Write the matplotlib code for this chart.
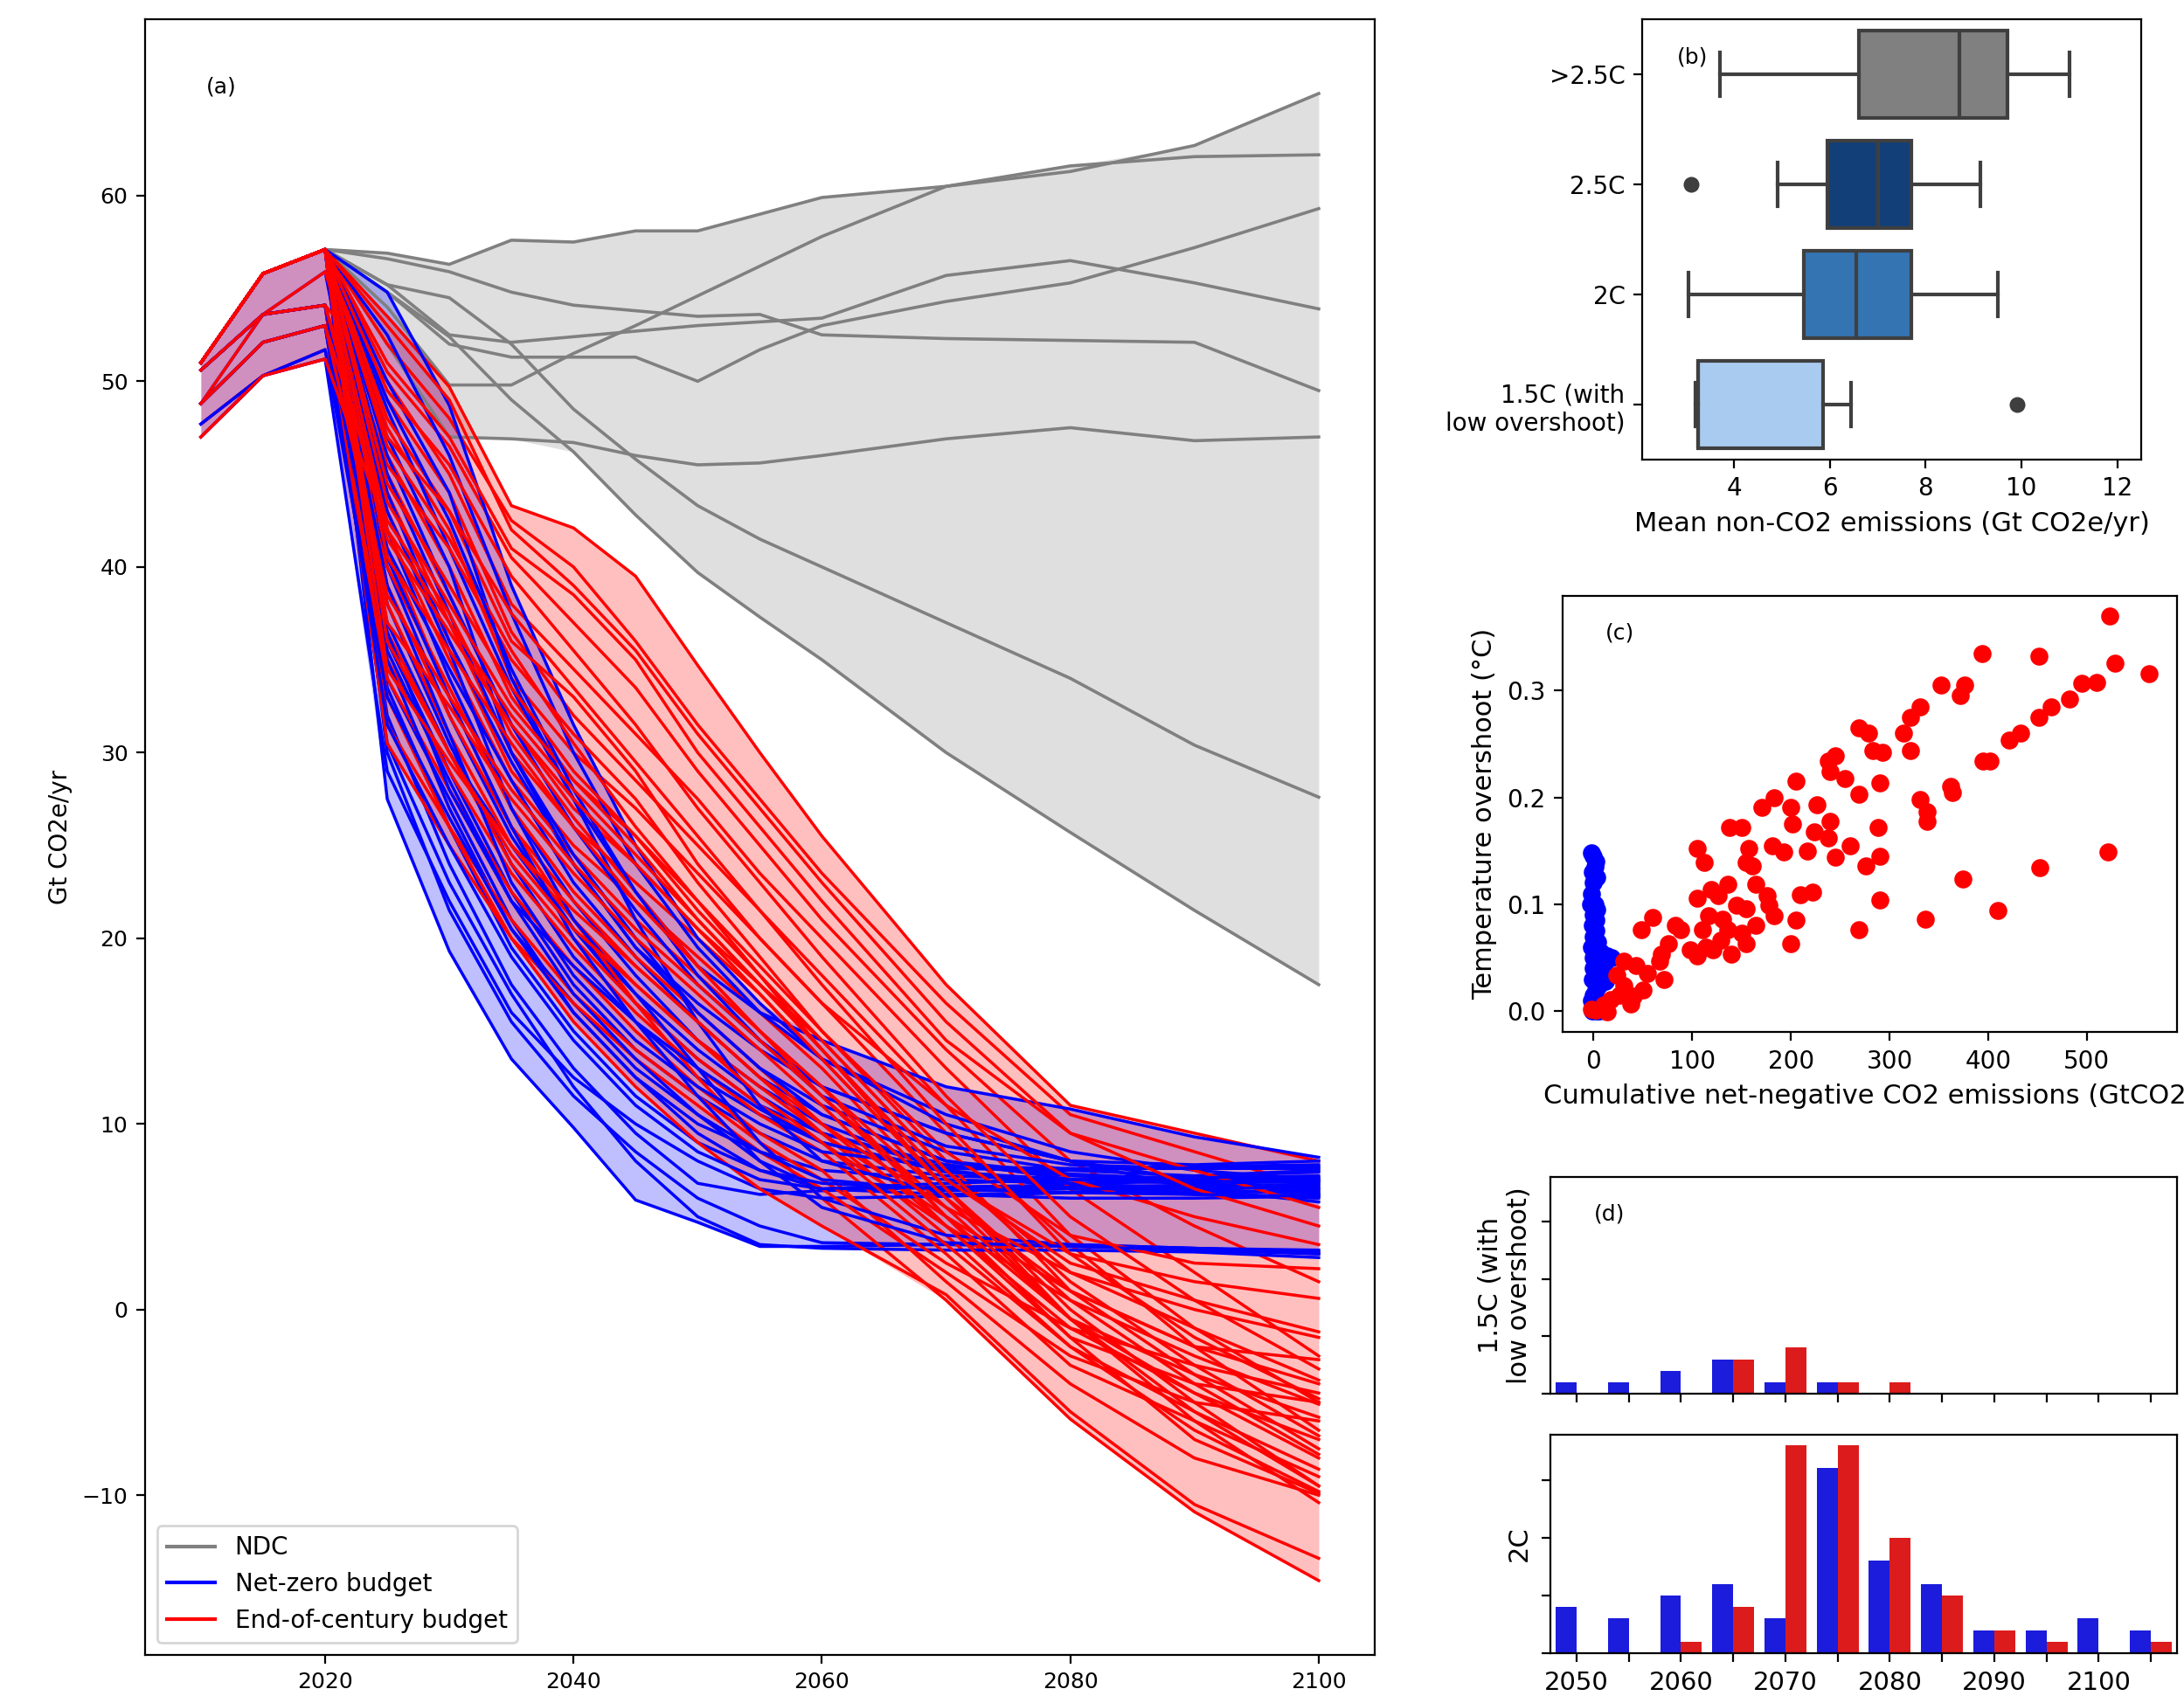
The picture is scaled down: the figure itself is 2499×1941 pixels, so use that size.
import numpy as np
import matplotlib.pyplot as plt
from matplotlib.lines import Line2D

# ---- panel (a): emission pathways (Gt CO2e/yr) ----
years = [2010, 2015, 2020, 2025, 2030, 2035, 2040, 2045, 2050, 2055, 2060, 2070, 2080, 2090, 2100]
ndc_years = years[2:]

ndc_paths = [
    [57.1, 56.9, 56.3, 57.6, 57.5, 58.1, 58.1, 59.0, 59.9, 60.5, 61.6, 62.1, 62.2],
    [57.1, 54.0, 49.8, 49.8, 51.5, 53.0, 54.6, 56.2, 57.8, 60.5, 61.3, 62.7, 65.5],
    [57.1, 54.8, 52.0, 51.3, 51.3, 51.3, 50.0, 51.7, 53.0, 54.3, 55.3, 57.2, 59.3],
    [57.1, 55.2, 52.5, 52.1, 52.4, 52.7, 53.0, 53.2, 53.4, 55.7, 56.5, 55.3, 53.9],
    [57.1, 56.6, 55.9, 54.8, 54.1, 53.8, 53.5, 53.6, 52.5, 52.3, 52.2, 52.1, 49.5],
    [57.1, 52.0, 47.0, 46.9, 46.7, 46.0, 45.5, 45.6, 46.0, 46.9, 47.5, 46.8, 47.0],
    [57.1, 55.2, 54.5, 52.0, 48.5, 45.8, 43.3, 41.5, 40.0, 37.0, 34.0, 30.4, 27.6],
    [57.1, 54.8, 52.4, 49.0, 46.2, 42.8, 39.7, 37.3, 35.0, 30.0, 25.7, 21.5, 17.5],
]

netzero_paths = [
    [51.0, 55.8, 57.1, 27.5, 19.3, 13.5, 9.8, 5.9, 4.7, 3.4, 3.4, 3.5, 3.5, 3.3, 3.0],
    [51.0, 55.8, 57.1, 30.0, 21.5, 15.5, 11.5, 8.5, 6.0, 4.5, 3.6, 3.5, 3.4, 3.3, 3.1],
    [50.6, 53.6, 54.1, 32.0, 24.0, 17.5, 13.0, 9.5, 6.8, 6.2, 6.4, 6.6, 6.7, 6.6, 6.5],
    [51.0, 55.8, 57.1, 33.5, 26.0, 19.5, 15.0, 11.5, 9.0, 7.5, 6.5, 6.2, 6.3, 6.4, 6.3],
    [48.8, 52.1, 53.0, 34.0, 27.5, 21.0, 16.0, 12.5, 10.0, 8.5, 7.5, 7.0, 6.8, 6.9, 7.0],
    [51.0, 55.8, 57.1, 36.0, 29.0, 22.5, 17.5, 14.0, 11.5, 9.5, 8.0, 7.2, 7.0, 7.2, 7.4],
    [51.0, 55.8, 57.1, 38.0, 30.5, 24.0, 19.0, 15.5, 12.5, 10.5, 9.0, 7.5, 6.8, 6.5, 6.2],
    [50.6, 53.6, 54.1, 40.0, 32.0, 25.5, 20.5, 16.5, 13.5, 11.0, 9.5, 7.8, 7.2, 7.0, 7.1],
    [51.0, 55.8, 57.1, 42.0, 34.0, 27.0, 22.0, 18.0, 14.5, 12.0, 10.0, 7.5, 6.5, 6.2, 6.0],
    [47.7, 50.3, 51.7, 37.0, 30.0, 25.0, 20.5, 17.0, 14.0, 11.5, 9.5, 7.6, 7.5, 7.7, 7.8],
    [51.0, 55.8, 57.1, 44.0, 36.0, 29.5, 24.0, 19.5, 16.0, 13.0, 11.0, 8.5, 7.5, 7.2, 7.5],
    [51.0, 55.8, 57.1, 46.0, 38.5, 31.5, 26.0, 21.5, 17.5, 14.5, 12.0, 9.5, 8.0, 7.8, 8.0],
    [48.8, 52.1, 53.0, 41.0, 34.5, 28.5, 23.0, 19.0, 15.5, 12.5, 10.5, 8.0, 7.3, 7.0, 6.8],
    [51.0, 55.8, 57.1, 48.5, 41.0, 33.5, 27.5, 22.5, 18.5, 16.0, 14.5, 12.0, 10.8, 9.3, 8.2],
    [51.0, 55.8, 57.1, 52.5, 46.0, 37.5, 30.0, 24.0, 19.5, 16.0, 13.5, 10.5, 8.5, 7.5, 7.0],
    [51.0, 55.8, 57.1, 54.8, 48.7, 39.0, 31.5, 25.0, 20.0, 16.5, 13.5, 10.0, 8.0, 7.0, 6.2],
    [50.6, 53.6, 54.1, 30.5, 23.0, 17.0, 12.0, 8.0, 5.0, 3.5, 3.3, 3.2, 3.2, 3.1, 2.8],
    [47.0, 50.3, 51.2, 29.0, 22.0, 16.0, 12.5, 10.0, 8.0, 6.5, 6.0, 6.1, 6.3, 6.3, 6.4],
    [51.0, 55.8, 57.1, 35.0, 27.0, 20.5, 16.5, 13.0, 10.5, 8.0, 6.5, 6.6, 6.6, 6.7, 6.7],
    [48.8, 53.6, 55.9, 39.0, 31.0, 23.0, 18.0, 14.5, 12.0, 10.0, 8.5, 7.7, 7.6, 7.6, 7.7],
    [51.0, 55.8, 57.1, 43.0, 35.5, 27.0, 21.0, 17.0, 13.0, 9.0, 6.0, 4.0, 3.5, 3.3, 3.2],
    [51.0, 55.8, 57.1, 47.0, 40.0, 30.0, 24.0, 19.5, 16.5, 14.0, 12.0, 9.5, 8.0, 6.5, 5.8],
    [51.0, 55.8, 57.1, 50.0, 44.0, 34.0, 27.5, 21.0, 15.5, 11.0, 8.0, 6.2, 6.0, 6.0, 6.1],
    [48.8, 52.1, 53.0, 36.5, 28.0, 22.0, 18.5, 15.5, 13.0, 10.8, 9.0, 7.4, 7.0, 6.9, 6.9],
    [51.0, 55.8, 57.1, 45.0, 37.5, 30.0, 24.5, 20.0, 16.0, 13.0, 10.5, 8.0, 7.0, 6.8, 6.9],
    [50.6, 53.6, 54.1, 35.5, 28.5, 22.0, 17.0, 13.5, 10.5, 8.5, 7.0, 6.4, 6.5, 6.5, 6.6],
    [51.0, 55.8, 57.1, 40.5, 33.0, 26.0, 20.0, 15.5, 11.5, 8.0, 5.5, 3.6, 3.4, 3.2, 3.0],
    [48.8, 52.1, 53.0, 31.5, 25.0, 19.0, 14.5, 11.0, 8.5, 7.0, 6.5, 6.8, 7.0, 7.1, 7.2],
    [51.0, 55.8, 57.1, 49.0, 42.5, 34.5, 28.0, 22.5, 18.0, 14.5, 11.5, 8.8, 7.8, 7.6, 7.6],
    [47.7, 50.3, 51.7, 33.0, 26.5, 20.5, 16.0, 12.5, 9.5, 7.5, 6.8, 6.5, 6.3, 6.2, 6.1],
]

eoc_paths = [
    [51.0, 55.8, 57.1, 53.5, 49.7, 43.3, 42.1, 39.5, 34.7, 30.0, 25.5, 17.5, 11.0, 9.5, 8.0],
    [51.0, 55.8, 57.1, 52.0, 48.0, 42.5, 40.0, 36.0, 31.5, 27.5, 23.5, 16.5, 10.5, 8.5, 6.5],
    [51.0, 55.8, 57.1, 50.5, 46.5, 40.5, 37.0, 33.5, 29.0, 25.0, 21.0, 14.0, 8.0, 4.5, 1.5],
    [50.6, 53.6, 54.1, 50.0, 45.0, 38.0, 34.5, 31.0, 27.5, 23.5, 20.0, 13.0, 6.5, 2.0, -2.5],
    [51.0, 55.8, 57.1, 49.0, 44.0, 36.5, 32.0, 28.5, 25.0, 21.5, 18.0, 11.0, 4.0, -1.0, -5.0],
    [51.0, 55.8, 57.1, 47.5, 42.0, 34.0, 30.0, 27.0, 23.5, 20.0, 16.5, 9.5, 3.5, -2.0, -6.5],
    [48.8, 52.1, 53.0, 46.0, 40.0, 33.0, 28.5, 25.5, 22.0, 18.5, 15.0, 8.0, 1.0, -3.5, -7.5],
    [51.0, 55.8, 57.1, 45.0, 38.5, 31.5, 27.0, 24.0, 20.5, 17.5, 14.5, 7.5, 2.0, -1.0, -3.8],
    [51.0, 55.8, 57.1, 44.0, 37.0, 30.0, 26.0, 23.0, 20.0, 17.0, 13.5, 6.5, 0.0, -5.0, -9.5],
    [50.6, 53.6, 54.1, 43.0, 36.0, 29.0, 25.0, 22.0, 19.0, 16.0, 13.0, 6.0, -0.5, -6.0, -10.4],
    [51.0, 55.8, 57.1, 42.0, 35.0, 28.5, 24.5, 21.0, 18.0, 15.0, 12.0, 5.0, -1.5, -7.0, -9.9],
    [51.0, 55.8, 57.1, 41.0, 33.0, 26.0, 21.0, 16.5, 12.5, 9.0, 6.0, 0.5, -5.9, -10.9, -14.6],
    [47.7, 50.3, 51.7, 40.0, 33.5, 27.0, 22.5, 19.0, 16.0, 13.0, 10.0, 4.5, -1.0, -4.5, -7.0],
    [51.0, 55.8, 57.1, 39.0, 32.0, 26.0, 22.0, 18.5, 15.5, 12.5, 9.5, 4.0, -2.0, -5.5, -8.6],
    [51.0, 55.8, 57.1, 38.0, 31.0, 25.0, 21.0, 17.5, 14.5, 12.0, 9.5, 5.0, 1.0, -2.0, -4.0],
    [47.0, 50.3, 51.2, 36.5, 30.0, 24.0, 20.0, 16.5, 13.5, 11.0, 9.0, 4.5, 0.5, -2.5, -5.1],
    [51.0, 55.8, 57.1, 35.0, 29.0, 23.5, 19.5, 16.0, 13.0, 10.5, 8.5, 3.0, -3.0, -6.0, -9.0],
    [48.8, 52.1, 53.0, 34.0, 28.0, 22.5, 18.5, 15.0, 12.0, 9.5, 7.5, 1.5, -4.0, -8.0, -10.0],
    [51.0, 55.8, 57.1, 33.0, 26.0, 20.0, 15.5, 12.0, 9.0, 6.5, 4.5, 0.8, -5.5, -10.5, -13.4],
    [51.0, 55.8, 57.1, 31.5, 26.0, 21.0, 17.0, 14.0, 11.5, 9.0, 7.0, 2.5, -1.0, -3.0, -4.5],
    [50.6, 53.6, 54.1, 30.5, 25.0, 20.0, 16.5, 13.5, 11.0, 8.5, 6.5, 2.0, -2.5, -5.0, -6.0],
    [51.0, 55.8, 57.1, 48.0, 43.0, 36.0, 33.0, 29.0, 24.0, 20.0, 16.5, 11.0, 7.0, 5.0, 3.5],
    [51.0, 55.8, 57.1, 51.0, 47.0, 41.0, 38.5, 35.0, 30.0, 26.0, 22.0, 14.5, 9.5, 7.5, 5.5],
    [48.8, 53.6, 55.9, 45.5, 41.0, 35.0, 31.0, 27.5, 23.0, 19.0, 15.0, 8.5, 4.0, 2.5, 2.2],
    [51.0, 55.8, 57.1, 43.5, 38.0, 32.5, 28.5, 25.0, 21.0, 17.5, 14.0, 7.0, 3.0, 1.5, 0.6],
    [51.0, 55.8, 57.1, 46.5, 41.5, 35.5, 30.5, 26.0, 22.0, 18.0, 14.0, 6.5, -0.5, -4.5, -8.0],
    [48.8, 52.1, 53.0, 42.5, 37.5, 31.0, 26.5, 22.5, 18.5, 15.0, 11.5, 5.5, -0.5, -5.5, -9.5],
    [51.0, 55.8, 57.1, 37.0, 32.5, 27.5, 23.5, 20.0, 17.0, 14.0, 11.0, 4.5, -1.5, -4.0, -5.0],
    [51.0, 55.8, 57.1, 53.0, 49.0, 42.0, 39.0, 35.5, 31.0, 27.0, 23.0, 15.5, 9.5, 6.5, 4.5],
    [51.0, 55.8, 57.1, 40.5, 35.5, 30.5, 26.0, 22.0, 18.5, 15.0, 12.0, 6.0, 1.0, -2.0, -2.7],
    [51.0, 55.8, 57.1, 44.5, 39.0, 33.5, 29.0, 25.5, 21.5, 18.0, 14.5, 7.5, 1.5, -3.0, -6.8],
    [50.6, 53.6, 54.1, 41.5, 36.5, 31.5, 27.5, 24.0, 20.5, 17.0, 13.5, 6.5, 0.5, -4.0, -7.8],
    [51.0, 55.8, 57.1, 47.0, 43.0, 37.5, 33.5, 29.5, 25.5, 21.5, 17.5, 10.0, 3.0, -1.5, -4.8],
    [48.8, 52.1, 53.0, 38.5, 33.0, 28.0, 24.0, 20.5, 17.5, 14.5, 11.5, 5.0, -0.5, -3.5, -5.8],
    [51.0, 55.8, 57.1, 36.0, 30.0, 24.5, 20.5, 17.5, 14.5, 11.5, 9.0, 3.5, -2.0, -6.5, -9.8],
    [47.0, 50.3, 51.2, 42.0, 37.0, 32.0, 28.0, 24.5, 21.0, 17.5, 14.0, 7.0, 2.5, 0.5, -1.2],
    [51.0, 55.8, 57.1, 49.5, 45.5, 39.5, 35.5, 31.5, 27.0, 23.0, 19.0, 11.5, 5.0, 0.5, -3.2],
    [51.0, 55.8, 57.1, 34.5, 29.5, 25.0, 21.5, 18.5, 15.5, 12.5, 10.0, 5.5, 2.0, 0.0, -1.5],
]

# ---- panel (b): mean non-CO2 emissions by warming category ----
box_labels = [">2.5C", "2.5C", "2C", "1.5C (with\nlow overshoot)"]
box_whislo = [3.7, 4.9, 3.05, 3.2]
box_q1 = [6.6, 5.95, 5.45, 3.25]
box_med = [8.7, 7.0, 6.55, 3.25]
box_q3 = [9.7, 7.7, 7.7, 5.85]
box_whishi = [11.0, 9.15, 9.5, 6.45]
box_fliers = [[], [3.1], [], [9.9]]
box_colors = ["#808080", "#123f78", "#3574b3", "#a9cbf0"]

# ---- panel (c): cumulative net-negative CO2 vs temperature overshoot ----
eoc_nn = [523, 528, 563, 394, 451, 352, 376, 372, 331, 321, 314, 321, 269, 279, 283, 293,
          482, 495, 510, 464, 451, 433, 421, 395, 402, 238, 245, 240, 255, 205, 290, 269,
          362, 364, 331, 338, 338, 226, 240, 171, 183, 200, 202, 138, 150, 181, 193, 217,
          224, 238, 260, 288, 290, 245, 157, 155, 161, 105, 112, 164, 176, 178, 155, 210,
          222, 205, 200, 276, 269, 290, 336, 374, 410, 452, 521, 105, 126, 117, 131, 129,
          114, 105, 140, 110, 88, 76, 83, 60, 48, 67, 71, 55, 50, 40, 38, 31, 24, 26, 17,
          10, 2, -2, 14, 43, 31, 150, 164, 183, 136, 119, 145, 121, 98, 69, 155, 136]
eoc_os = [0.370, 0.326, 0.316, 0.335, 0.332, 0.305, 0.305, 0.295, 0.285, 0.275, 0.260, 0.244,
          0.265, 0.260, 0.244, 0.242, 0.292, 0.307, 0.308, 0.285, 0.275, 0.260, 0.254, 0.234,
          0.234, 0.234, 0.239, 0.224, 0.218, 0.215, 0.214, 0.203, 0.210, 0.205, 0.198, 0.187,
          0.178, 0.193, 0.178, 0.191, 0.200, 0.191, 0.175, 0.172, 0.172, 0.155, 0.149, 0.150,
          0.168, 0.162, 0.155, 0.172, 0.145, 0.144, 0.152, 0.139, 0.136, 0.152, 0.139, 0.119,
          0.108, 0.099, 0.096, 0.109, 0.111, 0.085, 0.063, 0.136, 0.076, 0.104, 0.086, 0.124,
          0.094, 0.134, 0.149, 0.106, 0.108, 0.089, 0.086, 0.066, 0.060, 0.052, 0.053, 0.076,
          0.076, 0.063, 0.080, 0.088, 0.076, 0.047, 0.030, 0.035, 0.020, 0.014, 0.007, 0.024,
          0.034, 0.015, 0.011, 0.006, 0.001, 0.002, -0.001, 0.043, 0.047, 0.073, 0.080, 0.089,
          0.119, 0.114, 0.099, 0.057, 0.057, 0.053, 0.063, 0.076]
nz_nn = [-2, 0, 2, -1, 3, 0, -2, 1, 3, 0, -1, 2, 0, 4, -2, 1, 8, 14, 18, 5, 10, 0, 3, -1,
         6, 12, 2, 0, -2, 4, 1, 8, -1, 3, 12, 6, 0, 2, -3, 1]
nz_os = [0.148, 0.145, 0.140, 0.130, 0.125, 0.120, 0.110, 0.100, 0.095, 0.090, 0.080, 0.075,
         0.070, 0.065, 0.060, 0.055, 0.055, 0.052, 0.050, 0.045, 0.040, 0.040, 0.035, 0.030,
         0.025, 0.028, 0.020, 0.015, 0.010, 0.008, 0.003, 0.002, 0.000, 0.000, 0.000, 0.000,
         0.050, 0.085, 0.100, 0.135]

# ---- panel (d): year of net zero, counts per 5-year bin ----
nz_year_bins = [2050, 2055, 2060, 2065, 2070, 2075, 2080, 2085, 2090, 2095, 2100, 2105]
low_os_netzero = [1, 1, 2, 3, 1, 1, 0, 0, 0, 0, 0, 0]
low_os_eoc = [0, 0, 0, 3, 4, 1, 1, 0, 0, 0, 0, 0]
two_c_netzero = [4, 3, 5, 6, 3, 16, 8, 6, 2, 2, 3, 2]
two_c_eoc = [0, 0, 1, 4, 18, 18, 10, 5, 2, 1, 0, 1]

fig = plt.figure(figsize=(12.495, 9.705), dpi=200)

# (a)
ax = fig.add_axes([0.0664, 0.0242, 0.563, 0.9645])
ndc = np.array(ndc_paths)
nz = np.array(netzero_paths)
eoc = np.array(eoc_paths)
ax.fill_between(ndc_years, ndc.min(axis=0), ndc.max(axis=0), color="grey", alpha=0.25, lw=0)
ax.fill_between(years, nz.min(axis=0), nz.max(axis=0), color="blue", alpha=0.25, lw=0)
ax.fill_between(years, eoc.min(axis=0), eoc.max(axis=0), color="red", alpha=0.25, lw=0)
for row in ndc_paths:
    ax.plot(ndc_years, row, color="grey", lw=1.3)
for i in range(max(len(netzero_paths), len(eoc_paths))):
    if i < len(netzero_paths):
        ax.plot(years, netzero_paths[i], color="blue", lw=1.25)
    if i < len(eoc_paths):
        ax.plot(years, eoc_paths[i], color="red", lw=1.25)
ax.set_ylabel("Gt CO2e/yr", fontsize=10)
ax.tick_params(labelsize=9)
ax.text(0.05, 0.955, "(a)", transform=ax.transAxes, fontsize=9)
handles = [Line2D([], [], color="grey", lw=1.5), Line2D([], [], color="blue", lw=1.5),
           Line2D([], [], color="red", lw=1.5)]
ax.legend(handles, ["NDC", "Net-zero budget", "End-of-century budget"], loc="lower left", fontsize=10)

# (b)
axb = fig.add_axes([0.7519, 0.729, 0.2285, 0.2597])
stats = []
for i in range(len(box_labels)):
    stats.append({"whislo": box_whislo[i], "q1": box_q1[i], "med": box_med[i],
                  "q3": box_q3[i], "whishi": box_whishi[i], "fliers": box_fliers[i]})
edge = "#3f3f3f"
bp = axb.bxp(stats, positions=range(len(box_labels)), widths=0.8, orientation="horizontal",
             patch_artist=True,
             boxprops=dict(edgecolor=edge, linewidth=1.5),
             medianprops=dict(color=edge, linewidth=1.5),
             whiskerprops=dict(color=edge, linewidth=1.5),
             capprops=dict(color=edge, linewidth=1.5),
             flierprops=dict(marker="o", markerfacecolor=edge, markeredgecolor=edge, markersize=5.5))
for patch, c in zip(bp["boxes"], box_colors):
    patch.set_facecolor(c)
axb.set_yticks(range(len(box_labels)))
axb.set_yticklabels(box_labels)
axb.set_ylim(3.5, -0.5)
axb.set_xlim(2.08, 12.5)
axb.set_xticks([4, 6, 8, 10, 12])
axb.tick_params(labelsize=10)
axb.set_xlabel("Mean non-CO2 emissions (Gt CO2e/yr)", fontsize=11)
axb.text(0.07, 0.9, "(b)", transform=axb.transAxes, fontsize=9)

# (c)
axc = fig.add_axes([0.7155, 0.3915, 0.2813, 0.2571])
axc.scatter(nz_nn, nz_os, color="blue", s=55, linewidths=0)
axc.scatter(eoc_nn, eoc_os, color="red", s=55, linewidths=0)
axc.set_xticks([0, 100, 200, 300, 400, 500])
axc.set_yticks([0.0, 0.1, 0.2, 0.3])
axc.tick_params(labelsize=10)
axc.set_xlabel("Cumulative net-negative CO2 emissions (GtCO2)", fontsize=11)
axc.set_ylabel("Temperature overshoot (\u00b0C)", fontsize=11)
axc.text(0.07, 0.9, "(c)", transform=axc.transAxes, fontsize=9)

# (d)
axd1 = fig.add_axes([0.7099, 0.1783, 0.2869, 0.1278])
axd2 = fig.add_axes([0.7099, 0.0252, 0.2869, 0.1288], sharex=axd1, sharey=axd1)
for axd, nzc, eocc in [(axd1, low_os_netzero, low_os_eoc), (axd2, two_c_netzero, two_c_eoc)]:
    axd.bar(nz_year_bins, nzc, width=-2, align="edge", color="#1c1cdc")
    axd.bar(nz_year_bins, eocc, width=2, align="edge", color="#dc1c1c")
    axd.tick_params(labelleft=False, labelsize=10.5)
axd1.set_xlim(2047.5, 2107.5)
axd1.set_ylim(0, 18.9)
axd1.set_yticks([0, 5, 10, 15])
axd1.set_xticks(nz_year_bins)
axd2.set_xticklabels([str(y) if y % 10 == 0 else "" for y in nz_year_bins])
axd1.tick_params(labelbottom=False)
axd1.set_ylabel("1.5C (with\nlow overshoot)", fontsize=11)
axd2.set_ylabel("2C", fontsize=11)
axd1.text(0.07, 0.8, "(d)", transform=axd1.transAxes, fontsize=9)

fig.savefig("out.png", dpi=200)
